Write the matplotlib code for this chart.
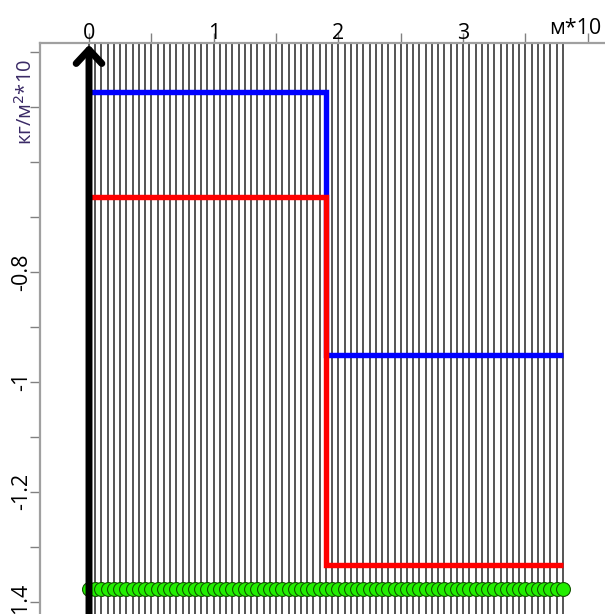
import numpy as np
import matplotlib.pyplot as plt

plt.rcParams['font.family'] = ['Open Sans', 'DejaVu Sans']

# mesh nodes along x (м*10)
x_nodes = np.round(np.arange(0, 3.8001, 0.05), 2)
# step profiles: edges and values on each segment
step_edges = [0.0, 1.9, 3.8]
blue_vals = [-0.473, -0.951]
red_vals = [-0.664, -1.333]
green_level = -1.376

x_ticks = [0, 1, 2, 3]
x_labels = ['0', '1', '2', '3']
y_major = [-1.4, -1.2, -1.0, -0.8]
y_labels = ['-1.4', '-1.2', '-1', '-0.8']
y_minor = [-1.3, -1.1, -0.9, -0.7, -0.6, -0.5, -0.4]

W, H = 605, 614
fig = plt.figure(figsize=(W / 100, H / 100), dpi=100)
ax = fig.add_axes([40 / W, 0, 1 - 40 / W, (H - 43) / H])
ax.set_xlim(-0.393, 4.138)
ax.set_ylim(-1.422, -0.384)

# vertical mesh lines
ax.vlines(x_nodes, -1.422, -0.384, color='#262626', lw=1.1, zorder=1)

ax.stairs(blue_vals, step_edges, baseline=None, color='#0000ff', lw=3.9, zorder=3)
ax.stairs(red_vals, step_edges, baseline=None, color='#ff0000', lw=3.9, zorder=4)

ax.plot(x_nodes, np.full(len(x_nodes), green_level), 'o', color='#22ee00',
        mec='#115500', mew=0.8, ms=10, zorder=5, clip_on=False)

# thick axis arrow at x = 0
ax.annotate('', xy=(0, -0.387), xytext=(0, -1.45),
            arrowprops=dict(arrowstyle='->,head_length=0.45,head_width=0.42',
                            lw=5, color='black', mutation_scale=22,
                            shrinkA=0, shrinkB=0, capstyle='round',
                            joinstyle='round'),
            annotation_clip=False, zorder=6)

for side in ['right', 'bottom']:
    ax.spines[side].set_visible(False)
for side in ['left', 'top']:
    ax.spines[side].set_color('#a0a0a0')
    ax.spines[side].set_linewidth(1.6)

ax.xaxis.tick_top()
ax.set_xticks(x_ticks)
ax.set_xticklabels(x_labels)
ax.set_xticks([0.5, 1.5, 2.5, 3.5, 4.0], minor=True)
ax.set_yticks(y_major)
ax.set_yticklabels(y_labels, rotation=90, va='center')
ax.set_yticks(y_minor, minor=True)
ax.tick_params(axis='both', which='both', direction='out', length=7,
               width=1, color='#808080', labelsize=15.5)
ax.tick_params(axis='x', pad=-8)
ax.tick_params(axis='y', pad=-1)

fig.text(575 / W, 1 - 29 / H, 'м*10', fontsize=15.5, ha='center', va='center')
fig.text(26 / W, 1 - 102 / H, 'кг/м$^2$*10', fontsize=14.5, color='#3a2a66',
         rotation=90, ha='center', va='center')

fig.savefig('out.png', dpi=100)
